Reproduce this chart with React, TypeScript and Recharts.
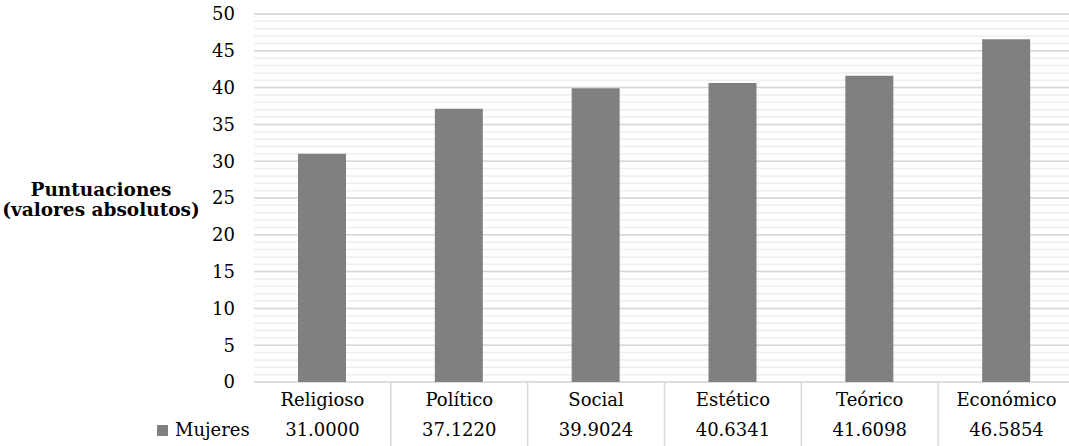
import React from "react";
import { BarChart, Bar, XAxis, YAxis, CartesianGrid, Label } from "recharts";

const categories = ["Religioso", "Político", "Social", "Estético", "Teórico", "Económico"];
const mujeres = [31.0, 37.122, 39.9024, 40.6341, 41.6098, 46.5854];
const majorTicks = [0, 5, 10, 15, 20, 25, 30, 35, 40, 45, 50];
const minorTicks = [
  0, 1, 2, 3, 4, 5, 6, 7, 8, 9, 10, 11, 12, 13, 14, 15, 16, 17, 18, 19, 20, 21, 22, 23, 24, 25,
  26, 27, 28, 29, 30, 31, 32, 33, 34, 35, 36, 37, 38, 39, 40, 41, 42, 43, 44, 45, 46, 47, 48, 49, 50,
];
const seriesName = "Mujeres";

const data = categories.map((c, i) => ({ category: c, value: mujeres[i] }));

const FONT = "'DejaVu Serif', 'Liberation Serif', serif";
const CHART_W = 1075;
const Y_AXIS_W = 254;
const BAR_COLOR = "#808080";

// category width of the band scale, used for the data table lines
const bandWidth = (CHART_W - Y_AXIS_W) / categories.length;

function TableTick(props: any) {
  const { x, y, payload, index } = props;
  const half = bandWidth / 2;
  return (
    <g>
      <text x={x} y={y + 24} textAnchor="middle" fontFamily={FONT} fontSize={18} fill="#000">
        {payload.value}
      </text>
      <text x={x} y={y + 54} textAnchor="middle" fontFamily={FONT} fontSize={18} fill="#000">
        {mujeres[index].toFixed(4)}
      </text>
      {index < categories.length - 1 && (
        <line x1={x + half} x2={x + half} y1={y} y2={y + 70} stroke="#d9d9d9" strokeWidth={1.5} />
      )}
      {index === 0 && (
        <g>
          <rect x={x - half - 97} y={y + 43} width={11} height={11} fill={BAR_COLOR} />
          <text x={x - half - 79} y={y + 54} fontFamily={FONT} fontSize={18} fill="#000">
            {seriesName}
          </text>
        </g>
      )}
    </g>
  );
}

function AxisTitle(props: any) {
  const { viewBox } = props;
  const cx = viewBox.x + 101;
  const cy = viewBox.y + viewBox.height / 2;
  return (
    <text textAnchor="middle" fontFamily={FONT} fontSize={18.5} fontWeight="bold" fill="#000">
      <tspan x={cx} y={cy - 2}>Puntuaciones</tspan>
      <tspan x={cx} y={cy + 18}>(valores absolutos)</tspan>
    </text>
  );
}

export default function App() {
  return (
    <div style={{ position: "absolute", left: 0, top: 0, width: 1069, height: 446, overflow: "hidden", background: "#fff" }}>
      <BarChart width={CHART_W} height={446} data={data} margin={{ top: 14, right: 0, left: 0, bottom: 0 }}>
        <YAxis
          yAxisId="major"
          width={Y_AXIS_W}
          domain={[0, 50]}
          ticks={majorTicks}
          interval={0}
          tickLine={false}
          axisLine={false}
          tickSize={6}
          tickMargin={13}
          tick={{ fontFamily: FONT, fontSize: 18, fill: "#000" }}
        >
          <Label content={<AxisTitle />} />
        </YAxis>
        {/* minor gridlines every unit, then the major ones every 5 */}
        <CartesianGrid yAxisId="major" vertical={false} horizontalValues={minorTicks} stroke="#eeeeee" strokeWidth={1.5} />
        <CartesianGrid yAxisId="major" vertical={false} horizontalValues={majorTicks} stroke="#d6d6d6" strokeWidth={1.5} />
        <XAxis
          dataKey="category"
          height={64}
          interval={0}
          tickLine={false}
          axisLine={false}
          tickSize={0}
          tickMargin={0}
          tick={<TableTick />}
        />
        <Bar yAxisId="major" dataKey="value" name={seriesName} fill={BAR_COLOR} barSize={48} isAnimationActive={false} />
      </BarChart>
    </div>
  );
}
